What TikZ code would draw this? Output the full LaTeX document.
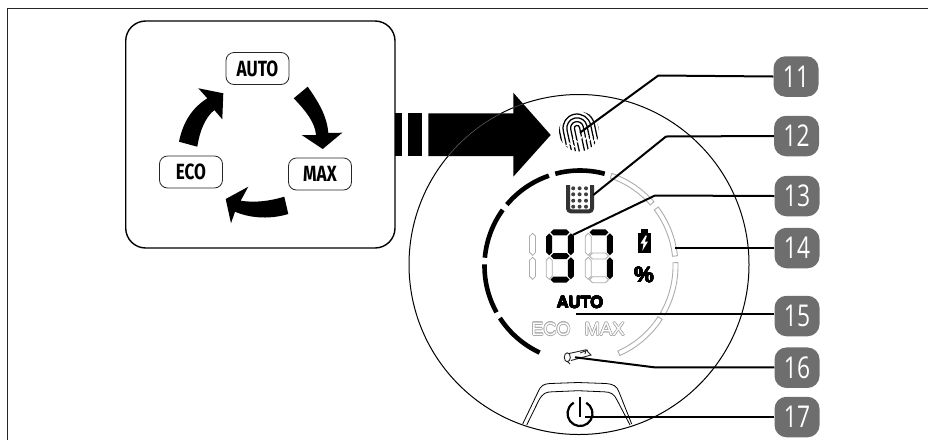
\documentclass[tikz,border=0pt]{standalone}
\usepackage{fontspec}
\usepackage{contour}
\setmainfont{Liberation Sans}
\newfontfamily\condfont[FakeStretch=0.78]{Fira Sans}
\newfontfamily\numfont[FakeStretch=0.76]{Open Sans}
\definecolor{mkgray}{RGB}{110,110,110}
\definecolor{mklcd}{RGB}{172,172,172}
\usetikzlibrary{arrows.meta,positioning,calc}
\tikzset{
  numbox/.style={fill=mkgray, rounded corners=12pt, minimum width=45pt, minimum height=40.5pt,
                 inner sep=0pt, text=white, font=\numfont\fontsize{30}{30}\selectfont},
  modebox/.style={draw=black!85, line width=0.8pt, fill=white, rounded corners=8pt, minimum width=63pt,
                  minimum height=32pt, inner sep=0pt, font=\condfont\bfseries\fontsize{22}{22}\selectfont},
  leader/.style={draw=black, line width=2pt},
  ringon/.style={draw=black, line width=4.6pt},
  segon/.style={fill=black},
  segoff/.style={draw=mklcd, fill=white, line width=0.8pt},
  fprint/.style={draw=black, line width=1.25pt},
}
% one lcd segment: style, x, y
\newcommand{\hseg}[3]{\path[#1] (#2,#3) -- ++(3,-3) -- ++(13,0) -- ++(3,3) -- ++(-3,3) -- ++(-13,0) -- cycle;}
\newcommand{\vseg}[3]{\path[#1] (#2,#3) -- ++(3,3) -- ++(0,16) -- ++(-3,3) -- ++(-3,-3) -- ++(0,-16) -- cycle;}
% ring piece as a double line in gray: start, end
\newcommand{\ringoff}[2]{\draw[mklcd, line width=0.9pt] (#1:98) arc (#1:#2:98) -- (#2:93) arc (#2:#1:93) -- cycle;}
\begin{document}
\begin{tikzpicture}[x=1pt, y=-1pt]
  \useasboundingbox (0,0) rectangle (928,440);
  % Page corner
  \draw[black!85, line width=1.2pt] (7.5,440) -- (7.5,8.5) -- (928,8.5);

  % Mode panel
  \draw[black, line width=1.4pt, rounded corners=20pt] (125.7,21) rectangle (395,248);
  \node[modebox] (auto) at (257.5,68.5) {AUTO};
  \node[modebox] (eco) at (191,172) {ECO};
  \node[modebox] (max) at (320,174) {MAX};
  % Mode arrows
  \fill (293.7,98.3) .. controls (305,110) and (315,122) .. (316,135) -- (301.7,135) -- (322.7,149)
        -- (342.3,132.7) -- (328.3,133) .. controls (327,115) and (317,100) .. (307.7,86.7) -- cycle;
  \fill (179,141.7) .. controls (183,122) and (192,108) .. (207.3,98.3) -- (198.3,88.3) -- (223.3,93.3)
        -- (222.3,119.3) -- (214.3,110) .. controls (205,118) and (200,130) .. (197.3,146.7) -- cycle;
  \fill (284.3,196.7) .. controls (270,201) and (255,203) .. (240.7,200.7) -- (248.3,186.7) -- (225.7,199)
        -- (231,223.3) -- (235,211.7) .. controls (252,219) and (272,219) .. (288.3,214) -- cycle;

  % Big arrow
  \fill (395,113.3) rectangle (401.7,156);
  \fill (408.3,113.3) rectangle (421.7,156);
  \fill (428.3,113.3) -- (513.3,113.3) -- (513.3,92.7) -- (550.7,135) -- (513.3,176.7) -- (513.3,156) -- (428.3,156) -- cycle;

  % Appliance outline
  \draw[black, line width=1pt] (579,264.5) circle (170);
  \begin{scope}
    \clip (428.3,113.3) -- (513.3,113.3) -- (513.3,92.7) -- (550.7,135) -- (513.3,176.7) -- (513.3,156) -- (428.3,156) -- cycle;
    \draw[black!65, line width=0.6pt] (579,264.5) circle (170);
  \end{scope}

  % Ring
  \begin{scope}[shift={(580,266)}]
    \foreach \a/\b in {255/285, 220/251, 185/216, 151/181, 115/147}
      \draw[ringon] (\a:95.5) arc (\a:\b:95.5);
    \ringoff{289}{319}
    \ringoff{323}{354}
    \ringoff{-2}{30}
    \ringoff{33}{66}
  \end{scope}

  % Fingerprint
  \begin{scope}
    \clip (579,131.5) circle (20);
    \begin{scope}[shift={(577,128)}, rotate=12]
      \foreach \r in {2.6,6.4,10.2,14,17.8,21.6}
        \draw[fprint, line cap=round] (-\r,30) -- (-\r,0) arc (180:360:\r) -- (\r,30);
      \foreach \r in {4.5,8.3,12.1,15.9}
        \draw[white, line width=1.2pt] (\r+1,5+\r/2) -- (\r-3,9+\r/2);
      \foreach \r in {6,10,14,18}
        \draw[white, line width=1.2pt] (-\r,4+\r) -- (-\r+4,8+\r);
      \draw[white, line width=1.2pt] (-10,13) -- (-16,16);
    \end{scope}
  \end{scope}

  % Filter icon
  \draw[black!80, line width=4pt, rounded corners=3pt] (568,185) -- (568,211.3) -- (592,211.3) -- (592,185);
  \foreach \x in {573.2,579.6,586}
    \foreach \y in {188.3,194.3,200.7,206.7}
      \fill[black!75] (\x,\y) circle (2);

  % Lcd digits
  \begin{scope}[shift={(532.5,229.3)}]
    \vseg{segoff}{0}{4}
    \vseg{segoff}{0}{28}
  \end{scope}
  \begin{scope}[shift={(546,229.3)}]
    \vseg{segon}{3.2}{4}
    \vseg{segoff}{3.2}{28}
    \vseg{segon}{24.8}{4}
    \vseg{segon}{24.8}{28}
    \hseg{segon}{4.5}{3}
    \hseg{segon}{4.5}{26.7}
    \hseg{segon}{4.5}{50.4}
  \end{scope}
  \begin{scope}[shift={(585,229.3)}]
    \vseg{segoff}{3.2}{4}
    \vseg{segoff}{3.2}{28}
    \vseg{segon}{24.8}{4}
    \vseg{segon}{24.8}{28}
    \hseg{segon}{4.5}{3}
    \hseg{segoff}{4.5}{26.7}
    \hseg{segoff}{4.5}{50.4}
  \end{scope}

  % Battery and percent
  \fill (640.7,229.3) rectangle (647.7,234);
  \fill (637.7,232.5) rectangle (650.7,253.3);
  \fill[white] (645.5,235.5) -- (640.5,243.5) -- (643.6,243.5) -- (642.3,250.8) -- (648,241.5) -- (644.8,241.5) -- (647,235.5) -- cycle;
  \contourlength{0.35pt}
  \node[font=\bfseries\fontsize{22}{22}\selectfont, inner sep=0pt] (percent) at (644,275) {\contour{black}{\%}};

  % Mode texts
  \node[font=\bfseries\fontsize{16.5}{16.5}\selectfont, inner sep=0pt] (autotxt) at (580,302.5) {\contour{black}{AUTO}};
  \contourlength{0.6pt}
  \node[font=\fontsize{18}{18}\selectfont, inner sep=0pt] (ecotxt) at (551,329.5) {\contour{mklcd}{\textcolor{white}{ECO}}};
  \node[font=\fontsize{18.5}{18.5}\selectfont, inner sep=0pt] (maxtxt) at (604.7,329.5) {\contour{mklcd}{\textcolor{white}{MAX}}};

  % Brush icon
  \draw[black!85, line width=0.9pt] (567.3,357.3) ellipse (3 and 4.5);
  \draw[black!85, line width=0.9pt] (569,353.5) -- (586,349.8) -- (591,355) -- (571,360.5);
  \draw[black!85, line width=0.9pt] (580,353) -- (588,350) (586,349.8) -- (585,354) (567,361) -- (570,364);

  % Button
  \draw[black, line width=0.8pt] (522.7,424) -- (538,392) .. controls (541,385) and (544,384) .. (550,383.5)
        -- (578,382.5) -- (606,383.5) .. controls (613,384) and (617,386) .. (619,392) -- (631.7,424);
  \draw[black, line width=0.8pt] (526.7,425) -- (539,400) .. controls (543,393) and (546,392) .. (552,391.8)
        -- (578,390.7) -- (604,391.8) .. controls (611,392) and (614,394) .. (617,400) -- (630,425);
  \draw[black, line width=2.2pt] (586.25,402.7) arc (300:600:12.5);
  \draw[black, line width=2.2pt] (580,396.7) -- (580,416.7);

  % Number boxes
  \node[numbox] (n11) at (796,76.5) {11};
  \node[numbox] (n12) at (796.5,136) {12};
  \node[numbox] (n13) at (797,196) {13};
  \node[numbox] (n14) at (797,248) {14};
  \node[numbox] (n15) at (797,316) {15};
  \node[numbox] (n16) at (797,367.7) {16};
  \node[numbox] (n17) at (797,417) {17};

  % Leaders
  \coordinate (p11) at (580,132.7);
  \coordinate (p12) at (593.3,195);
  \coordinate (p13) at (572.7,235);
  \coordinate (p14) at (675,248);
  \coordinate (p15) at (576,314);
  \coordinate (p16) at (575,357.3);
  \coordinate (p17) at (585,417.3);
  \draw[leader] (n11.west) -- (658.3,75.5) -- (p11);
  \draw[leader] (n12.west) -- (666,136.5) -- (p12);
  \draw[leader] (n13.west) -- (655,195.5) -- (p13);
  \draw[leader, line width=1.4pt] (n14.west) -- (p14);
  \draw[leader] (n15.west |- p15) -- (p15);
  \draw[leader] (n16.west |- 0,367.4) -- (655,367.4) -- (p16);
  \draw[leader] (n17.west |- p17) -- (p17);
\end{tikzpicture}
\end{document}
